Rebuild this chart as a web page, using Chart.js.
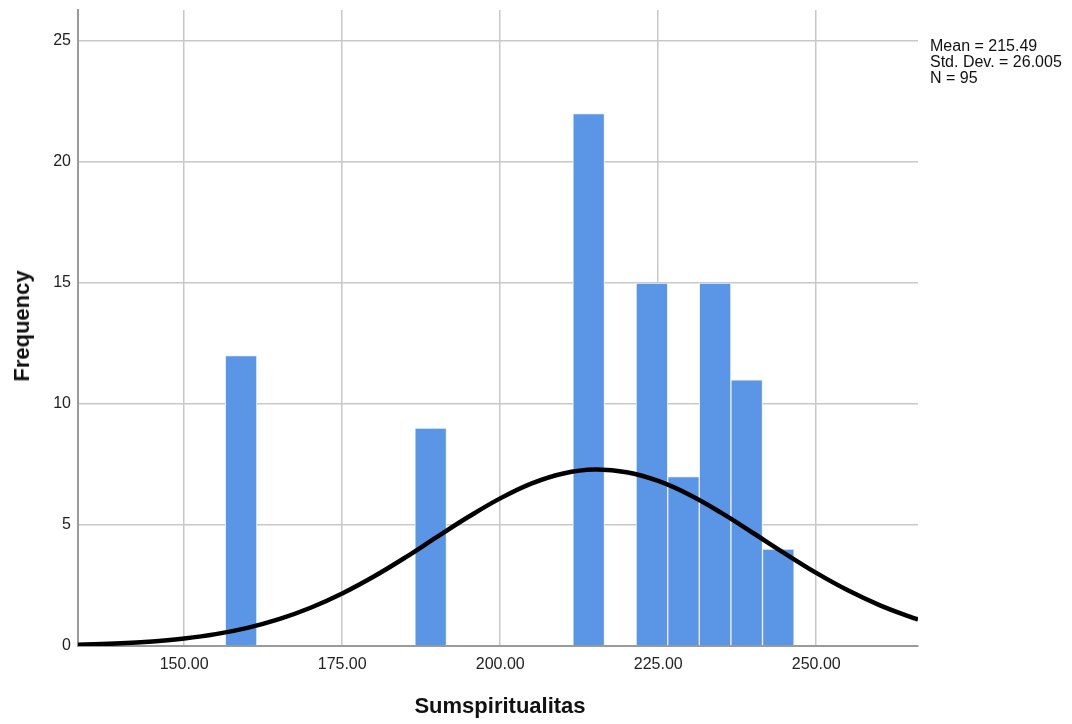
<!DOCTYPE html>
<html>
<head>
<meta charset="utf-8">
<script src="https://cdn.jsdelivr.net/npm/chart.js@4"></script>
<style>
  body { margin: 0; background: #fff; font-family: "Liberation Sans", Arial, sans-serif; }
  #wrap { position: relative; width: 1072px; height: 724px; }
  #stats { position: absolute; left: 930px; top: 38px; font-size: 16px; line-height: 16px; color: #111; }
  #ytitle { position: absolute; left: 22px; top: 326px; transform: translate(-50%, -50%) rotate(-90deg); font-size: 22px; font-weight: bold; color: #111; white-space: nowrap; }
  #xtitle { position: absolute; left: 500px; top: 706px; transform: translate(-50%, -50%); font-size: 22px; font-weight: bold; color: #111; white-space: nowrap; }
</style>
</head>
<body>
<div id="wrap">
  <canvas id="histChart" width="1072" height="724"></canvas>
  <div id="stats">Mean = 215.49<br>Std. Dev. = 26.005<br>N = 95</div>
  <div id="ytitle">Frequency</div>
  <div id="xtitle">Sumspiritualitas</div>
</div>
<script>
// histogram bins (centres) and counts
const binCenters = [159, 189, 214, 224, 229, 234, 239, 244];
const counts = [12, 9, 22, 15, 7, 15, 11, 4];

// normal curve
const curveX = [133.2, 140, 145, 150, 155, 160, 165, 170, 175, 180, 185, 190, 195, 200, 205,
                210, 215, 220, 225, 230, 235, 240, 245, 250, 255, 260, 265, 266.1];
const curveY = [0.05, 0.11, 0.19, 0.31, 0.49, 0.75, 1.11, 1.58, 2.17, 2.87, 3.66, 4.51, 5.34, 6.10, 6.72,
                7.13, 7.29, 7.18, 6.82, 6.24, 5.50, 4.67, 3.83, 3.02, 2.30, 1.69, 1.19, 1.10];

const xTicks = [150, 175, 200, 225, 250];
const yTicks = [0, 5, 10, 15, 20, 25];

const gridColor = '#c8c8c8';
const tickFont = { family: 'Liberation Sans', size: 16 };

new Chart("histChart", {
    type: 'bar',
    data: {
        datasets: [
            {
                type: 'line',
                data: curveX.map((x, i) => ({ x: x, y: curveY[i] })),
                borderColor: '#000',
                borderWidth: 4.5,
                pointRadius: 0,
                tension: 0.4,
                fill: false
            },
            {
                type: 'bar',
                data: binCenters.map((x, i) => ({ x: x, y: counts[i] })),
                backgroundColor: '#5a96e5',
                borderColor: 'rgba(235, 243, 253, 1)',
                borderWidth: 1,
                barPercentage: 1,
                categoryPercentage: 1
            }
        ]
    },
    options: {
        responsive: false,
        animation: false,
        layout: { padding: { top: 10, right: 154, left: 0, bottom: 0 } },
        plugins: {
            legend: { display: false },
            tooltip: { enabled: false }
        },
        scales: {
            x: {
                type: 'linear',
                min: 133.2,
                max: 266.1,
                offset: false,
                afterBuildTicks: s => { s.ticks = xTicks.map(v => ({ value: v })); },
                afterFit: s => { s.height = 78; s.paddingLeft = 0; s.paddingRight = 0; },
                ticks: {
                    color: '#222',
                    font: tickFont,
                    padding: 9,
                    callback: v => v.toFixed(2)
                },
                grid: { color: gridColor, lineWidth: 1.5, drawTicks: false, offset: false },
                border: { color: '#9a9a9a', width: 2 }
            },
            y: {
                min: 0,
                max: 26.28,
                afterBuildTicks: s => { s.ticks = yTicks.map(v => ({ value: v })); },
                afterFit: s => { s.width = 78; s.paddingTop = 0; s.paddingBottom = 0; },
                ticks: { color: '#222', font: tickFont, padding: 7 },
                grid: { color: gridColor, lineWidth: 1.5, drawTicks: false },
                border: { color: '#9a9a9a', width: 2 }
            }
        }
    }
});
</script>
</body>
</html>
